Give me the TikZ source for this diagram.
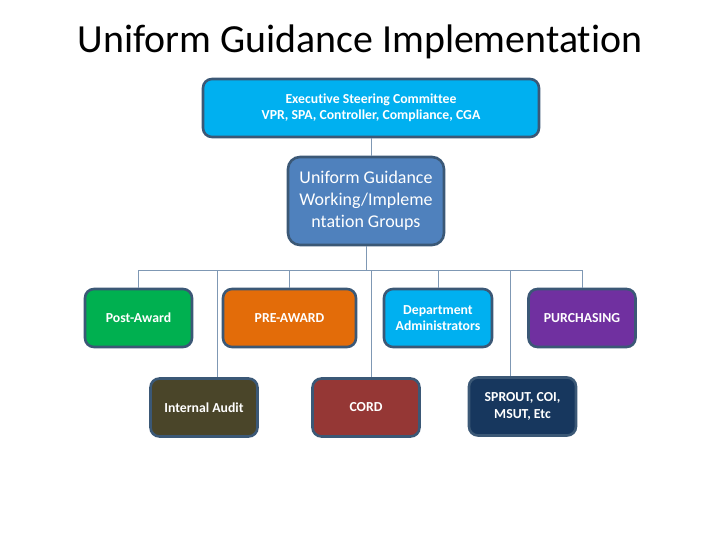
\documentclass[tikz,border=0pt]{standalone}
\usepackage{fontspec}
\setmainfont[Ligatures=NoCommon]{Carlito}
\definecolor{bordc}{HTML}{3B5876}
\definecolor{linec}{HTML}{7F98B4}
\definecolor{execc}{HTML}{00B0F0}
\definecolor{ugc}{HTML}{4F81BD}
\definecolor{postc}{HTML}{00B050}
\definecolor{prec}{HTML}{E36C09}
\definecolor{auditc}{HTML}{4A4529}
\definecolor{cordc}{HTML}{953735}
\definecolor{purchc}{HTML}{7030A0}
\definecolor{sproutc}{HTML}{17375E}
\tikzset{
  box/.style={draw=bordc, line width=2.6pt, rounded corners=9pt, text=white, align=center, font=\fontsize{13.8}{16.5}\selectfont\bfseries, inner sep=0pt},
  small/.style={box, minimum width=107bp, minimum height=58bp},
  conn/.style={draw=linec, line width=1pt}
}
\begin{document}
\begin{tikzpicture}[x=1bp,y=-1bp]
\useasboundingbox (0,0) rectangle (720,540);
\node (title) at (360,42) {\fontsize{40}{44}\selectfont Uniform Guidance Implementation};
\node[box, fill=execc, minimum width=336bp, minimum height=58bp] (exec) at (371,108) {Executive Steering Committee\\VPR, SPA, Controller, Compliance, CGA};
\node[box, fill=ugc, minimum width=156bp, minimum height=88bp, font=\fontsize{18}{22}\selectfont, rounded corners=12pt] (ug) at (366,201) {Uniform Guidance\\Working/Impleme\\ntation Groups};
\node[small, fill=postc] (post) at (138.5,318) {Post-Award};
\node[small, fill=prec, minimum width=133bp] (pre) at (289.5,318) {PRE-AWARD};
\node[small, fill=execc, minimum width=108bp] (dept) at (438,318) {Department\\Administrators};
\node[small, fill=purchc] (purch) at (582,318) {PURCHASING};
\node[small, fill=auditc] (audit) at (204,407.5) {Internal Audit};
\node[small, fill=cordc] (cord) at (366,407.5) {CORD};
\node[small, fill=sproutc] (sprout) at (522.5,406.5) {SPROUT, COI,\\MSUT, Etc};
\coordinate (bar) at (0,270);
\draw[conn] (exec.south) -- (exec.south |- ug.north);
\draw[conn] (ug.south) -- (ug.south |- bar);
\draw[conn] (post.north |- bar) -- (purch.north |- bar);
\draw[conn] (post.north |- bar) -- (post.north);
\draw[conn] (pre.north |- bar) -- (pre.north);
\draw[conn] (dept.north |- bar) -- (dept.north);
\draw[conn] (purch.north |- bar) -- (purch.north);
\draw[conn] ([xshift=13bp]audit.north |- bar) -- ([xshift=13bp]audit.north);
\draw[conn] ([xshift=5bp]cord.north |- bar) -- ([xshift=5bp]cord.north);
\draw[conn] ([xshift=-12bp]sprout.north |- bar) -- ([xshift=-12bp]sprout.north);
\end{tikzpicture}
\end{document}
